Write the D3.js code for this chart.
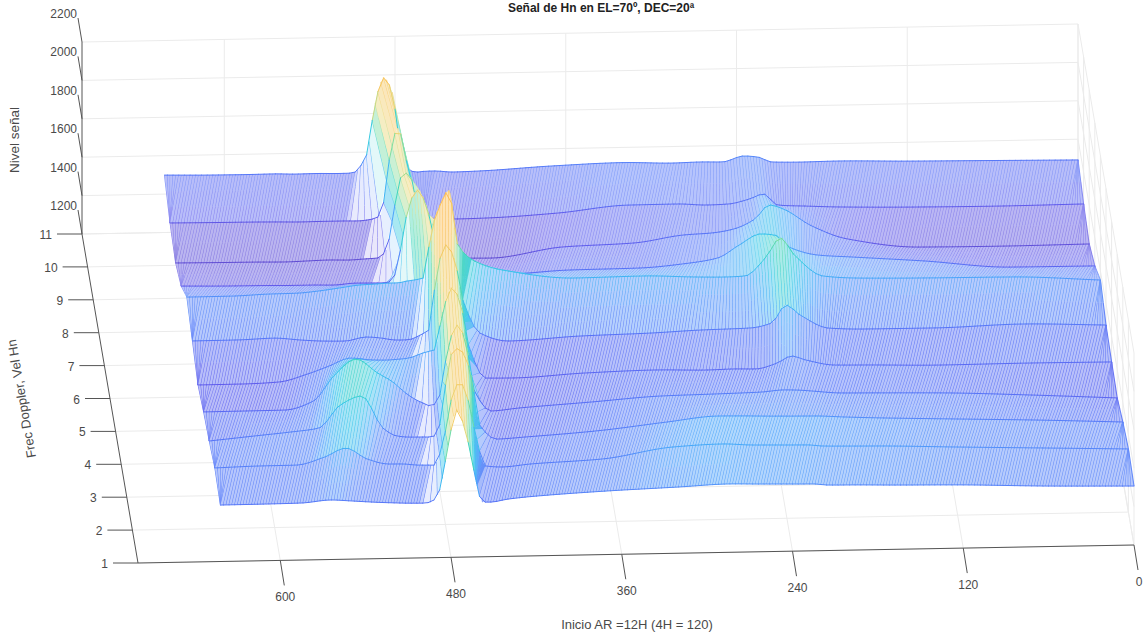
<!DOCTYPE html>
<html>
<head>
<meta charset="utf-8">
<script src="https://cdn.jsdelivr.net/npm/d3@7"></script>
<style>
  body { margin: 0; background: #fff; }
  text { font-family: "Liberation Sans", Arial, sans-serif; fill: #4a4a4a; }
</style>
</head>
<body>
<svg width="1146" height="635"></svg>
<script>
const arKnots = [0, 60, 120, 170, 195, 215, 225, 235, 250, 265, 285, 320, 370, 420, 440, 452,
    458, 464, 470, 476, 482, 488, 494, 500, 510, 520, 535, 550, 565, 585, 610, 642]

// signal level for each Doppler row
const level01 = [1507, 1515, 1529, 1535, 1539, 1541, 1548, 1549, 1551, 1553, 1556, 1545, 1531, 1511, 1498, 1484,
    1485, 1653, 1861, 1967, 1785, 1552, 1490, 1485, 1486, 1489, 1495, 1503, 1510, 1497, 1495, 1494]
const level02 = [1529, 1542, 1555, 1567, 1570, 1573, 1580, 1581, 1583, 1585, 1593, 1582, 1526, 1507, 1494, 1501,
    1637, 1846, 1941, 1847, 1614, 1510, 1511, 1512, 1519, 1520, 1548, 1607, 1562, 1523, 1522, 1516]
const level03 = [1498, 1516, 1530, 1542, 1550, 1558, 1559, 1560, 1562, 1565, 1567, 1541, 1501, 1476, 1468, 1543,
    1804, 1924, 1946, 1754, 1495, 1485, 1486, 1486, 1493, 1536, 1705, 1660, 1542, 1524, 1507, 1485]
const level04 = [1452, 1475, 1494, 1501, 1504, 1517, 1523, 1525, 1516, 1513, 1510, 1505, 1480, 1456, 1443, 1554,
    1815, 1893, 1790, 1531, 1474, 1491, 1513, 1544, 1608, 1652, 1726, 1645, 1511, 1467, 1466, 1465]
const level05 = [1468, 1470, 1468, 1475, 1478, 1507, 1529, 1494, 1465, 1467, 1464, 1469, 1460, 1441, 1443, 1617,
    1851, 1915, 1791, 1594, 1584, 1569, 1554, 1550, 1546, 1548, 1560, 1520, 1481, 1442, 1435, 1434]
const level06 = [1489, 1502, 1490, 1491, 1499, 1570, 1623, 1531, 1507, 1504, 1501, 1490, 1481, 1462, 1506, 1679,
    1898, 1968, 1839, 1526, 1502, 1481, 1477, 1478, 1490, 1496, 1477, 1479, 1486, 1499, 1493, 1492]
const level07 = [1552, 1576, 1579, 1585, 1599, 1710, 1801, 1703, 1606, 1603, 1606, 1616, 1612, 1660, 1710, 1801,
    2080, 2005, 1875, 1626, 1617, 1611, 1603, 1603, 1599, 1596, 1582, 1568, 1559, 1557, 1550, 1549]
const level08 = [1454, 1456, 1496, 1523, 1537, 1581, 1645, 1652, 1596, 1531, 1507, 1486, 1482, 1463, 1466, 1467,
    1484, 1651, 1834, 1913, 1835, 1601, 1442, 1432, 1433, 1434, 1426, 1428, 1428, 1430, 1431, 1435]
const level09 = [1397, 1394, 1397, 1446, 1517, 1608, 1630, 1558, 1508, 1490, 1482, 1445, 1431, 1380, 1382, 1384,
    1385, 1402, 1559, 1794, 1836, 1665, 1432, 1391, 1387, 1383, 1385, 1382, 1379, 1381, 1382, 1384]
const level10 = [1434, 1431, 1434, 1441, 1449, 1457, 1516, 1491, 1467, 1464, 1472, 1471, 1436, 1417, 1415, 1416,
    1422, 1433, 1549, 1726, 1894, 1728, 1443, 1422, 1414, 1415, 1415, 1414, 1416, 1418, 1419, 1421]
const level11 = [1492, 1497, 1502, 1509, 1507, 1510, 1537, 1544, 1515, 1517, 1514, 1521, 1510, 1491, 1488, 1495,
    1495, 1491, 1500, 1597, 1910, 1985, 1854, 1585, 1492, 1491, 1493, 1492, 1495, 1494, 1495, 1499]
const levels = [level01, level02, level03, level04, level05, level06, level07, level08, level09, level10, level11]

const arTicks = [0, 120, 240, 360, 480, 600],
    freqTicks = [1, 2, 3, 4, 5, 6, 7, 8, 9, 10, 11],
    levelTicks = [1200, 1400, 1600, 1800, 2000, 2200]

// colormap, parula-like
const colorLevels = [1380, 1430, 1490, 1540, 1575, 1660, 1740, 1800, 1860, 2000],
    colorValues = ['#4a34cc', '#4a44e8', '#3f62f6', '#3f78f8', '#3296fa', '#18bfe6', '#25d0b0', '#6fd890', '#e8d060', '#fdb43c']

const axes_color = '#555',
    grid_color = '#ebebeb',
    ar_step = 2

// how far the mesh lines lean between two rows (index = back row - 2):
// they follow the main ridge, and the ridge near 225 on the back rows
const ridgeCentre = [473, 471, 469, 467, 465, 461, 470, 478, 480, 484],
    ridgeLean = [2, 2, 2, 2, 3, 4, 0, -2, -2, -6],
    bumpLean = [10, 10, 10, 10, 4, 1, 1, 1, 1, 1],
    flatLean = 10

const svg = d3.select("svg")

svg.append('filter').attr('id', 'soft')
    .attr('x', 0).attr('y', 0).attr('width', 1146).attr('height', 635)
    .attr('filterUnits', 'userSpaceOnUse')
    .append('feGaussianBlur').attr('stdDeviation', 0.45)

// oblique view: each data axis moves the screen point along a fixed direction
const arX = d3.scaleLinear().domain([0, 700]).range([1134, 138]),
    arY = d3.scaleLinear().domain([0, 700]).range([545, 563]),
    freqX = d3.scaleLinear().domain([1, 11]).range([0, -56]),
    freqY = d3.scaleLinear().domain([1, 11]).range([0, -329]),
    levelY = d3.scaleLinear().domain([1200, 2200]).range([0, -192]),
    color = d3.scaleLinear().domain(colorLevels).range(colorValues).clamp(true)

const px = (ar, freq) => arX(ar) + freqX(freq),
    py = (ar, freq, level) => arY(ar) + freqY(freq) + levelY(level)

function gridLine(a, b) {
    svg.append('line')
        .attr('x1', px(a[0], a[1])).attr('y1', py(a[0], a[1], a[2]))
        .attr('x2', px(b[0], b[1])).attr('y2', py(b[0], b[1], b[2]))
        .style('stroke', grid_color)
        .style('stroke-width', 1)
}

function axisLine(a, b) {
    svg.append('line')
        .attr('x1', px(a[0], a[1])).attr('y1', py(a[0], a[1], a[2]))
        .attr('x2', px(b[0], b[1])).attr('y2', py(b[0], b[1], b[2]))
        .style('stroke', axes_color)
        .style('stroke-width', 1)
}

// walls and floor
levelTicks.forEach(function (d) {
    gridLine([700, 11, d], [0, 11, d])
    gridLine([0, 11, d], [0, 1, d])
})
arTicks.forEach(function (d) {
    gridLine([d, 1, 1200], [d, 11, 1200])
    gridLine([d, 11, 1200], [d, 11, 2200])
})
freqTicks.forEach(function (d) {
    gridLine([700, d, 1200], [0, d, 1200])
    gridLine([0, d, 1200], [0, d, 2200])
})

// axes
axisLine([700, 1, 1200], [0, 1, 1200])
axisLine([700, 1, 1200], [700, 11, 1200])
axisLine([700, 11, 1200], [700, 11, 2200])

svg.selectAll('.x-tick').data(arTicks).enter().append('line')
    .attr('x1', (d) => px(d, 1)).attr('y1', (d) => py(d, 1, 1200))
    .attr('x2', (d) => px(d, 1) + 4).attr('y2', (d) => py(d, 1, 1200) + 25)
    .style('stroke', axes_color)
svg.selectAll('.x-label').data(arTicks).enter().append('text')
    .attr('x', (d) => px(d, 1) + 5).attr('y', (d) => py(d, 1, 1200) + 41)
    .attr('text-anchor', 'middle').attr('font-size', 12)
    .text((d) => d)

svg.selectAll('.y-tick').data(freqTicks).enter().append('line')
    .attr('x1', (d) => px(700, d)).attr('y1', (d) => py(700, d, 1200))
    .attr('x2', (d) => px(700, d) - 25).attr('y2', (d) => py(700, d, 1200))
    .style('stroke', axes_color)
svg.selectAll('.y-label').data(freqTicks).enter().append('text')
    .attr('x', (d) => px(700, d) - 30).attr('y', (d) => py(700, d, 1200) + 5)
    .attr('text-anchor', 'end').attr('font-size', 12)
    .text((d) => d)

svg.selectAll('.z-tick').data(levelTicks).enter().append('line')
    .attr('x1', (d) => px(700, 11)).attr('y1', (d) => py(700, 11, d))
    .attr('x2', (d) => px(700, 11) - 4).attr('y2', (d) => py(700, 11, d) - 24)
    .style('stroke', axes_color)
svg.selectAll('.z-label').data(levelTicks).enter().append('text')
    .attr('x', (d) => px(700, 11) - 5).attr('y', (d) => py(700, 11, d) - 24)
    .attr('text-anchor', 'end').attr('font-size', 12)
    .text((d) => d)

// titles
svg.append('text').attr('x', 601).attr('y', 12)
    .attr('text-anchor', 'middle').attr('font-size', 12).attr('font-weight', 'bold')
    .style('fill', '#222')
    .text('Señal de Hn en EL=70º, DEC=20ª')
svg.append('text').attr('x', 637).attr('y', 629)
    .attr('text-anchor', 'middle').attr('font-size', 13)
    .text('Inicio AR =12H (4H = 120)')
svg.append('text').attr('transform', 'translate(19,140)rotate(-90)')
    .attr('text-anchor', 'middle').attr('font-size', 13.5)
    .text('Nivel señal')
svg.append('text').attr('transform', 'translate(26,398)rotate(-99.7)')
    .attr('text-anchor', 'middle').attr('font-size', 13)
    .text('Frec Doppler, Vel Hn')

// smooth monotone reading of a row between its knots
function rowCurve(xs, ys) {
    const n = xs.length,
        d = d3.range(n - 1).map((i) => (ys[i + 1] - ys[i]) / (xs[i + 1] - xs[i])),
        m = xs.map(function (v, i) {
            if (i === 0) return d[0]
            if (i === n - 1) return d[n - 2]
            return d[i - 1] * d[i] <= 0 ? 0 : 2 * d[i - 1] * d[i] / (d[i - 1] + d[i])
        })
    return function (x) {
        const i = Math.min(n - 2, Math.max(0, d3.bisectRight(xs, x) - 1)),
            h = xs[i + 1] - xs[i],
            t = (x - xs[i]) / h
        return (2 * t * t * t - 3 * t * t + 1) * ys[i] + (t * t * t - 2 * t * t + t) * h * m[i] +
            (-2 * t * t * t + 3 * t * t) * ys[i + 1] + (t * t * t - t * t) * h * m[i + 1]
    }
}

const curves = levels.map((row) => rowCurve(arKnots, row)),
    arMax = arKnots[arKnots.length - 1],
    surface = svg.append('g').attr('class', 'surface').attr('filter', 'url(#soft)')

const tint = (level, amount) => d3.interpolateRgb(color(level), '#fff')(amount)

function paintStrip(back) {
    const front = back - 1,
        zb = curves[back - 1],
        zf = curves[front - 1],
        i0 = back - 2,
        c = ridgeCentre[i0],
        r = ridgeLean[i0],
        b = bumpLean[i0],
        dwRight = (flatLean - r) / 0.85,
        dwLeft = (flatLean - r) / 1.5,
        lean = d3.scaleLinear()
            .domain([0, 175, 215, 240, 285, c - 12 - dwRight, c - 12, c + 12, c + 12 + dwLeft, arMax])
            .range([flatLean, flatLean, b, b, flatLean, flatLean, r, r, flatLean, flatLean]),
        g = surface.append('g'),
        endOf = (u) => Math.min(arMax, Math.max(0, u + lean(Math.max(0, u)))),
        // only the front ridge has a saturated flank
        maxTone = back <= 7 ? 0.8 : 0.42
    // from the far left to the right, so the right flanks land on top
    for (let u = arMax; u >= -flatLean; u -= ar_step) {
        const a0 = Math.max(0, u),
            a1 = endOf(u),
            a0n = Math.min(arMax, Math.max(0, u + ar_step)),
            a1n = endOf(u + ar_step),
            p = [[a0, back, zb(a0)], [a0n, back, zb(a0n)], [a1n, front, zf(a1n)], [a1, front, zf(a1)]],
            l0 = zb(a0),
            l1 = zf(a1),
            // close to the ridge wide cells let the white through and packed ones saturate
            w = Math.max(1, ((a0n - a0) + (a1n - a1)) * 0.71),
            nearRidge = Math.abs(u - c) < 40,
            amount = nearRidge ? 1 - Math.min(maxTone, 0.38 * Math.pow(2.84 / w, 2)) : 0.62
        g.append('path')
            .attr('d', d3.line()(p.map((q) => [px(q[0], q[1]), py(q[0], q[1], q[2])])) + 'Z')
            .style('fill', tint((l0 + l1) / 2, amount))
        const parts = Math.max(1, Math.ceil(Math.abs(l1 - l0) / 35))
        for (let i = 0; i < parts; i++) {
            const t0 = i / parts,
                t1 = (i + 1) / parts,
                x0 = px(a0, back), y0 = py(a0, back, l0),
                x1 = px(a1, front), y1 = py(a1, front, l1)
            g.append('line')
                .attr('x1', x0 + (x1 - x0) * t0).attr('y1', y0 + (y1 - y0) * t0)
                .attr('x2', x0 + (x1 - x0) * t1).attr('y2', y0 + (y1 - y0) * t1)
                .style('stroke', tint(l0 + (l1 - l0) * (t0 + t1) / 2, back <= 7 ? 0.2 : 0.35))
                .style('stroke-width', 1.1)
        }
    }
}

function paintRow(freq) {
    const z = curves[freq - 1],
        g = surface.append('g')
    for (let a = 0; a < arMax; a += 4) {
        const b = Math.min(arMax, a + 4)
        g.append('line')
            .attr('x1', px(a, freq)).attr('y1', py(a, freq, z(a)))
            .attr('x2', px(b, freq)).attr('y2', py(b, freq, z(b)))
            .style('stroke', tint((z(a) + z(b)) / 2, 0.12))
            .style('stroke-width', 1)
            .style('stroke-linecap', 'round')
    }
}

for (let f = 11; f >= 2; f--) {
    paintStrip(f)
    paintRow(f)
}
paintRow(1)
</script>
</body>
</html>
